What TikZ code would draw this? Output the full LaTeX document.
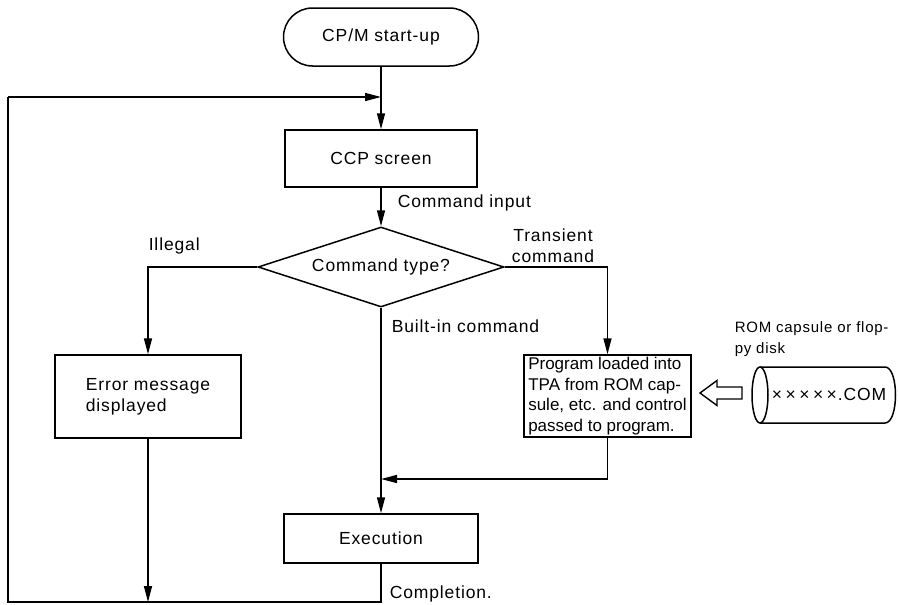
\documentclass[tikz,border=0pt]{standalone}
\usepackage{fontspec}
\setmainfont{Liberation Sans}
\newfontfamily\lblfont[LetterSpace=5]{Liberation Sans}
\usetikzlibrary{arrows.meta,shapes.geometric}
\begin{document}
\begin{tikzpicture}[x=1pt,y=-1pt, line width=1.5pt, line join=miter,
  arr/.style={-{Triangle[length=16pt,width=8pt]}},
  txt/.style={font=\lblfont\fontsize{17.5}{21}\selectfont},
  box/.style={draw, rectangle, inner sep=0pt, txt},
  lbl/.style={inner sep=0pt, txt}]
\useasboundingbox (0,0) rectangle (898,605);

% nodes
\node[box, rounded corners=29pt, minimum width=195pt, minimum height=58pt] (start) at (381,37) {CP/M start-up};
\node[box, minimum width=192pt, minimum height=57pt] (ccp) at (381,158.5) {CCP screen};
\node[draw, diamond, aspect=3.1, inner sep=0pt, minimum width=246pt, minimum height=80pt, txt] (dia) at (381,267) {Command type?};
\node[box, minimum width=186pt, minimum height=83pt, align=left] (err) at (148,396.5) {Error message\\displayed};
\node[box, minimum width=167pt, minimum height=82pt, align=left,
      font=\fontsize{17}{20.5}\selectfont] (prog) at (607.5,396)
      {Program loaded into\\TPA from ROM cap-\\sule, etc. and control\\passed to program.};
\node[box, minimum width=194pt, minimum height=49pt] (exec) at (381,538.5) {Execution};

% disk (cylinder)
\node[lbl] (disk) at (829,394) {×\hspace{3.5pt}×\hspace{3.5pt}×\hspace{3.5pt}×\hspace{3.5pt}×.COM};
\draw (760,367) -- (885,367) .. controls (899,367) and (899,423) .. (885,423) -- (760,423);
\draw (760,395) ellipse [x radius=8, y radius=28];
% hollow block arrow from disk to program box
\draw[line width=1.4pt] (700,393) -- (717,380.5) -- (717,387) -- (742,387) -- (742,399) -- (717,399) -- (717,405.5) -- cycle;

% labels
\node[lbl, anchor=west] (cmdin) at (397,203) {Command input};
\node[lbl, anchor=west] (illegal) at (148,246) {Illegal};
\node[lbl, align=center] (trans) at (553,245.5) {Transient\\command};
\node[lbl, anchor=west] (builtin) at (391,326) {Built-in command};
\node[lbl, anchor=west] (compl) at (389,594) {Completion.};
\node[inner sep=0pt, anchor=west, align=left, font=\lblfont\fontsize{15}{21}\selectfont] (rom) at (734,339) {ROM capsule or flop-\\py disk};

% coordinates
\coordinate (tin) at (381,97);
\coordinate (tl) at (8,97);
\coordinate (bl) at (8,602);
\coordinate (br) at (381,602);
\coordinate (errb) at (148,602);
\coordinate (merge) at (381,479);

% connectors
\draw[arr] (start) -- (ccp);
\draw[arr] (ccp) -- (dia);
\draw[arr] (dia.west) -| (err.north);
\draw[arr] (dia.south) -- (exec.north);
\draw[arr] (dia.east) -| (prog.north);
\draw[arr] (prog.south) |- (merge);
\draw[arr] (err.south) -- (errb);
\draw (exec.south) -- (br) -- (bl) -- (tl);
\draw[arr] (tl) -- (tin);
\end{tikzpicture}
\end{document}
